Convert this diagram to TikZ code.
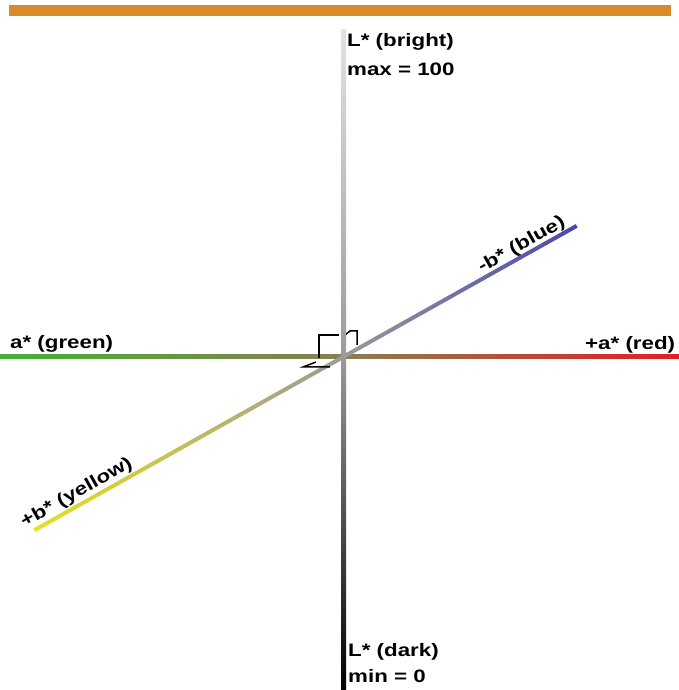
\documentclass[tikz,border=0pt]{standalone}
\usepackage{fontspec}
\newfontfamily\lab[FakeStretch=1.24]{Liberation Sans}
\definecolor{barorange}{HTML}{D98A2A}
\definecolor{axgreen}{HTML}{45B035}
\definecolor{axred}{HTML}{E31E24}
\definecolor{axmid}{HTML}{8A7E50}
\definecolor{axyellow}{HTML}{E8E020}
\definecolor{axblue}{HTML}{4848AC}
\definecolor{axgray}{HTML}{9A9A9A}
\definecolor{axlight}{HTML}{E2E2E2}
\begin{document}
\begin{tikzpicture}[x=1pt,y=1pt,
  lbl/.style={font=\lab\bfseries\fontsize{18}{22}\selectfont, inner sep=0pt, text=black},
  anglemark/.style={draw=black, line width=1.5pt, line join=miter}]
\useasboundingbox (0,0) rectangle (679,690);
\clip (0,0) rectangle (679,690);
\coordinate (C) at (343,333);
% orange bar
\fill[barorange] (9,674) rectangle (671,685);
% horizontal a* axis
\shade[left color=axgreen, right color=axmid] (0,331) rectangle (343,335);
\shade[left color=axmid, right color=axred] (343,331) rectangle (679,335);
% diagonal b* axis
\shade[transform canvas={shift={(343,333)},rotate=29.3}, left color=axgray, right color=axblue] (0,-2) rectangle (268,2);
\shade[transform canvas={shift={(343,333)},rotate=29.3}, left color=axyellow, right color=axgray] (-354,-2) rectangle (0,2);
% right-angle marks
\draw[anglemark] (319,332) -- (319,355) -- (339,355);
\draw[anglemark] (345,355) -- (350,359) -- (357,359) -- (357,345);
\draw[anglemark] (316,328) -- (303,323) -- (330,323);
% vertical L* axis
\shade[top color=axlight, bottom color=axgray] (341,333) rectangle (346,660);
\shade[top color=axgray, bottom color=black] (341,0) rectangle (346,333);
% labels
\node[lbl, anchor=base west] (lb) at (347,643) {L* (bright)};
\node[lbl, anchor=base west] (lmax) at (347,614) {max = 100};
\node[lbl, anchor=base west] (ld) at (348,33) {L* (dark)};
\node[lbl, anchor=base west] (lmin) at (348,7) {min = 0};
\node[lbl, anchor=base west] (ared) at (585,340) {+a* (red)};
\node[lbl, anchor=base west] (agreen) at (10,341) {a* (green)};
\node[lbl, anchor=base, rotate=29.3] (bblue) at (524,441) {-b* (blue)};
\node[lbl, anchor=base, rotate=29.3] (byel) at (79,193) {+b* (yellow)};
\end{tikzpicture}
\end{document}
